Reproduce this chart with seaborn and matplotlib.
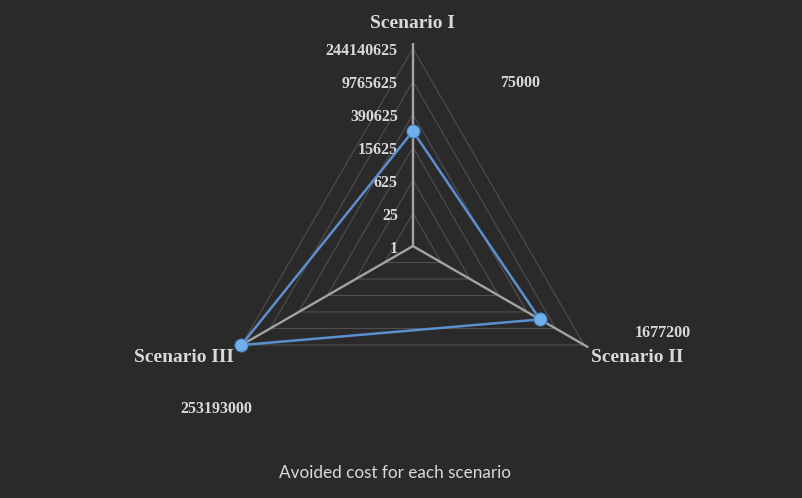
import numpy as np
import pandas as pd
import matplotlib
matplotlib.use("Agg")
import matplotlib.pyplot as plt
import seaborn as sns

# Chart data
scenarios = ["Scenario I", "Scenario II", "Scenario III"]
avoided_cost = [75000, 1677200, 253193000]
tick_values = [1, 25, 625, 15625, 390625, 9765625, 244140625]
chart_title = "Avoided cost for each scenario"

LOG_BASE = 25
BG = "#2b2a2a"
TEXT = "#d9d9d9"
GRID = "#4f4f4f"
SPOKE = "#a3a3a3"
LINE = "#5b8fcf"

sns.set_theme(style="dark", rc={"axes.facecolor": BG, "figure.facecolor": BG})
plt.rcParams["font.family"] = ["Liberation Serif", "DejaVu Serif"]


def to_radius(v):
    return np.log(np.asarray(v, dtype=float)) / np.log(LOG_BASE)


angles = np.deg2rad([0, 120, 240])
df = pd.DataFrame({
    "scenario": scenarios + [scenarios[0]],
    "theta": np.append(angles, 2 * np.pi),
    "r": np.append(to_radius(avoided_cost), to_radius(avoided_cost[0])),
})
rings = to_radius(tick_values)

fig = plt.figure(figsize=(8.02, 4.98), dpi=100, facecolor=BG)
ax = fig.add_axes([0.258, 0.0924, 0.5137, 0.827], projection="polar")
ax.set_facecolor(BG)
ax.patch.set_alpha(0)
ax.set_theta_zero_location("N")
ax.set_theta_direction(-1)
r_max = 6.25
spoke_len = 6.15
ax.set_ylim(0, r_max)
ax.grid(False)
ax.spines["polar"].set_visible(False)
ax.set_xticks([])
ax.set_yticks([])

# triangular gridlines
closed_angles = np.append(angles, 2 * np.pi)
for lv in rings[1:]:
    ax.plot(closed_angles, [lv] * 4, color=GRID, lw=0.8, zorder=1)

# spokes
for t in angles:
    ax.plot([t, t], [0, spoke_len], color=SPOKE, lw=1.7, zorder=2,
            solid_capstyle="butt")

# radial tick labels
for v, lv in zip(tick_values, rings):
    ax.annotate(str(v), xy=(0, lv), xytext=(-15, -3), textcoords="offset pixels",
                ha="right", va="center", fontsize=11.5, fontweight="bold",
                color=TEXT, annotation_clip=False)

# data series
sns.lineplot(data=df, x="theta", y="r", sort=False, estimator=None, ax=ax,
             color=LINE, lw=1.8, zorder=3)
sns.scatterplot(data=df.iloc[:3], x="theta", y="r", ax=ax, s=90,
                color="#6db0ec", edgecolor="#4679b3", linewidth=0.7, zorder=4)
ax.set_xlabel("")
ax.set_ylabel("")
ax.set_ylim(0, r_max)

# value labels
value_offsets = [(107, 48), (123, -14), (-25, -64)]
for t, rv, v, off in zip(angles, to_radius(avoided_cost), avoided_cost, value_offsets):
    ax.annotate(str(v), xy=(t, rv), xytext=off, textcoords="offset pixels",
                ha="center", va="center", fontsize=11.5, fontweight="bold",
                color=TEXT, annotation_clip=False)

# category labels
name_offsets = [(0, 20), (49, -10), (-53, -10)]
for t, name, off in zip(angles, scenarios, name_offsets):
    ax.annotate(name, xy=(t, spoke_len), xytext=off, textcoords="offset pixels",
                ha="center", va="center", fontsize=14, fontweight="bold",
                color=TEXT, annotation_clip=False)

fig.text(395 / 802, 1 - 473 / 498, chart_title, ha="center", va="center",
         fontsize=12.3, color=TEXT, family=["Lato", "DejaVu Sans"])

fig.savefig("out.png", dpi=100, facecolor=BG)
